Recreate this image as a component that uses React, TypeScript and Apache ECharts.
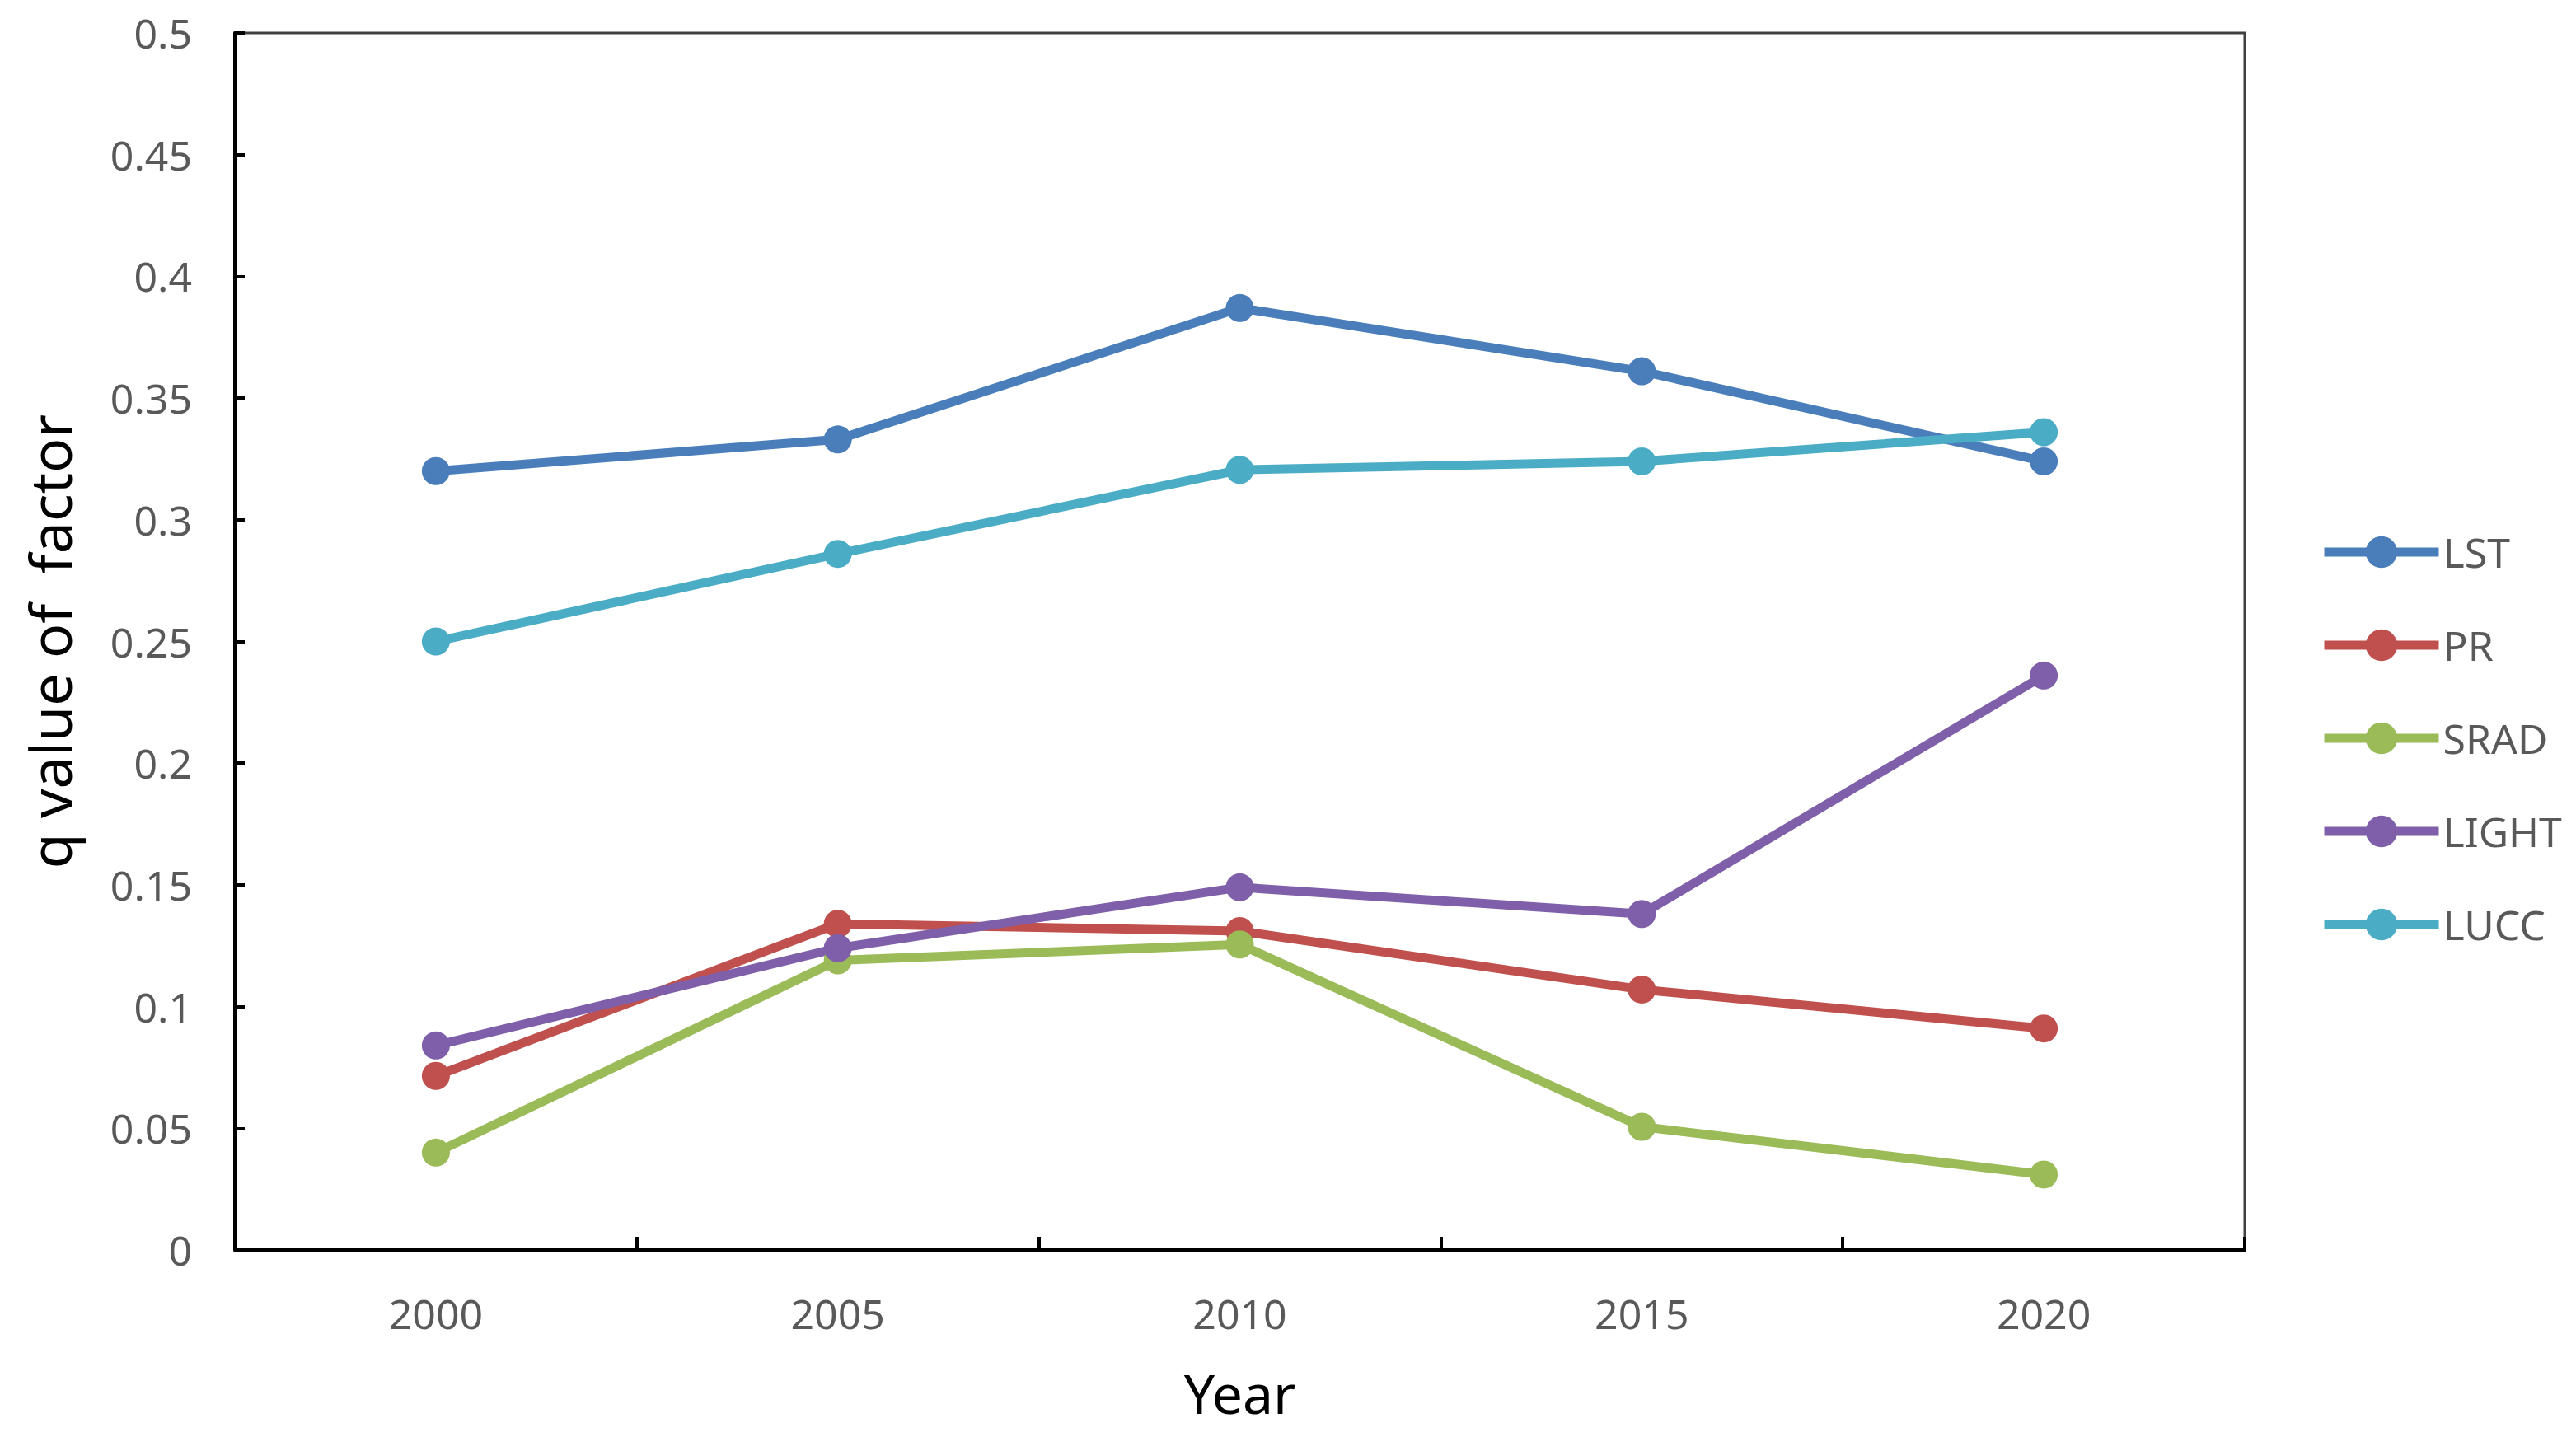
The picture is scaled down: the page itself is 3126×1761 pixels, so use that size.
import React, { useEffect, useRef } from "react";
import * as echarts from "echarts";

const years = ["2000", "2005", "2010", "2015", "2020"];
const LST = [0.320, 0.333, 0.387, 0.361, 0.324];
const PR = [0.0715, 0.134, 0.131, 0.107, 0.091];
const SRAD = [0.040, 0.119, 0.1255, 0.0506, 0.031];
const LIGHT = [0.084, 0.124, 0.149, 0.138, 0.236];
const LUCC = [0.250, 0.286, 0.3205, 0.324, 0.336];

const seriesDefs = [
  { name: "LST", data: LST, color: "#4a7ebb" },
  { name: "PR", data: PR, color: "#c0504d" },
  { name: "SRAD", data: SRAD, color: "#9bbb59" },
  { name: "LIGHT", data: LIGHT, color: "#7f5fa9" },
  { name: "LUCC", data: LUCC, color: "#4bacc6" },
];

const FONT = "'Noto Sans', sans-serif";

export default function App() {
  const ref = useRef<HTMLDivElement>(null);
  useEffect(() => {
    document.body.style.margin = "0";
    const chart = echarts.init(ref.current!, null, { renderer: "svg" });
    chart.setOption({
      animation: false,
      backgroundColor: "#ffffff",
      textStyle: { fontFamily: FONT },
      grid: {
        left: 285,
        right: 402,
        top: 40,
        bottom: 244,
        show: true,
        borderColor: "#404040",
        borderWidth: 3,
        containLabel: false,
      },
      legend: {
        orient: "vertical",
        left: 2810,
        top: 640,
        itemWidth: 139,
        itemHeight: 48,
        itemGap: 63,
        lineStyle: { width: 11 },
        textStyle: { fontSize: 50, color: "#595959", fontFamily: FONT, padding: [0, 0, 0, 0] },
        data: seriesDefs.map((s) => s.name),
      },
      xAxis: {
        type: "category",
        data: years,
        boundaryGap: true,
        name: "Year",
        nameLocation: "middle",
        nameGap: 140,
        nameTextStyle: { fontSize: 66, color: "#000000", fontFamily: FONT },
        axisLine: { lineStyle: { color: "#000000", width: 4 } },
        axisTick: { show: true, inside: true, length: 16, lineStyle: { color: "#000000", width: 4 } },
        axisLabel: { fontSize: 50, color: "#595959", margin: 52, fontFamily: FONT },
        splitLine: { show: false },
      },
      yAxis: {
        type: "value",
        min: 0,
        max: 0.5,
        interval: 0.05,
        name: "q value of  factor",
        nameLocation: "middle",
        nameGap: 190,
        nameRotate: 90,
        nameTextStyle: { fontSize: 70, color: "#000000", fontFamily: FONT },
        axisLine: { show: true, lineStyle: { color: "#000000", width: 4 } },
        axisTick: { show: true, inside: true, length: 12, lineStyle: { color: "#000000", width: 4 } },
        axisLabel: {
          fontSize: 50,
          color: "#595959",
          margin: 52,
          fontFamily: FONT,
          formatter: (v: number) => String(parseFloat(v.toFixed(2))),
        },
        splitLine: { show: false },
      },
      series: seriesDefs.map((s) => ({
        name: s.name,
        type: "line",
        data: s.data,
        symbol: "circle",
        symbolSize: 34,
        lineStyle: { color: s.color, width: 11 },
        itemStyle: { color: s.color },
        z: 3,
      })),
    });
    return () => chart.dispose();
  }, []);
  return <div ref={ref} style={{ width: 3126, height: 1761 }} />;
}
